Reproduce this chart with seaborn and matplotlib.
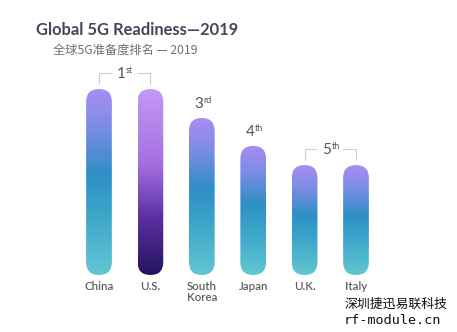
import numpy as np
import matplotlib
matplotlib.use("Agg")
import matplotlib.pyplot as plt
import seaborn as sns
from matplotlib.patches import FancyBboxPatch
from matplotlib.colors import LinearSegmentedColormap

countries = ["China", "U.S.", "South\nKorea", "Japan", "U.K.", "Italy"]
scores = [100, 100, 84.4, 69.4, 59.1, 59.1]
ranks = ["1", "1", "3", "4", "5", "5"]
suffixes = ["st", "st", "rd", "th", "th", "th"]

sns.set_theme(style="white")
plt.rcParams['font.family'] = ['Lato', 'Noto Sans CJK SC', 'DejaVu Sans']

W, H = 457, 332
fig = plt.figure(figsize=(W / 100, H / 100), dpi=100)
fig.patch.set_facecolor("white")
ax = fig.add_axes([73.3 / W, 57 / H, 308.4 / W, 186 / H])

sns.barplot(x=countries, y=scores, ax=ax, width=0.5, color="#999999")
ax.set_xlim(-0.5, 5.5)
ax.set_ylim(0, 100)
ax.axis("off")

cmap_blue = LinearSegmentedColormap.from_list(
    "b", [(0, "#62c7d3"), (0.35, "#3aa3c9"), (0.55, "#2f8fc6"), (0.8, "#7d8ce6"), (1, "#a98df2")])
cmap_us = LinearSegmentedColormap.from_list(
    "u", [(0, "#24145e"), (0.3, "#5a2fa0"), (0.6, "#a56fe2"), (1, "#c499f6")])

fig.canvas.draw()
px_x = (ax.transData.transform((1, 0))[0] - ax.transData.transform((0, 0))[0])
px_y = (ax.transData.transform((0, 1))[1] - ax.transData.transform((0, 0))[1])
aspect = px_x / px_y

patches = list(ax.patches)
for i, p in enumerate(patches):
    x0, w, h = p.get_x(), p.get_width(), p.get_height()
    p.set_visible(False)
    pill = FancyBboxPatch((x0, 0), w, h,
                          boxstyle=f"round,pad=0,rounding_size={w/2}",
                          mutation_aspect=aspect, transform=ax.transData,
                          facecolor="none", edgecolor="none")
    ax.add_patch(pill)
    cm = cmap_us if i == 1 else cmap_blue
    grad = np.linspace(1, 0, 256).reshape(-1, 1)
    im = ax.imshow(grad, cmap=cm, extent=[x0, x0 + w, 0, h], aspect="auto",
                   origin="upper", zorder=2, vmin=0, vmax=1)
    im.set_clip_path(pill)

ax.set_xlim(-0.5, 5.5)
ax.set_ylim(0, 100)

label_color = "#5e5e5e"
for i, c in enumerate(countries):
    ax.text(i, -3.3, c, ha="center", va="top", fontsize=8.3, color=label_color,
            fontweight="semibold", linespacing=1.0, clip_on=False)

rank_color = "#555555"
def rank_label(x, y, r, s):
    ax.text(x, y, r, ha="right", va="baseline", fontsize=11, color=rank_color, clip_on=False)
    ax.annotate(s, xy=(x, y), xytext=(0.3, 3.6), textcoords="offset points",
                ha="left", va="baseline", fontsize=6.5, color=rank_color, annotation_clip=False)

bracket_color = "#cfcfcf"
yb = scores[0] + 8.5
ax.plot([0, 0, 1, 1], [scores[0] + 2.7, yb, yb, scores[0] + 2.7], color=bracket_color, lw=0.8, clip_on=False)
ax.text(0.5, yb, " " * 9, ha="center", va="center", fontsize=8, clip_on=False,
        bbox=dict(facecolor="white", edgecolor="none", pad=0))
rank_label(0.52, yb - 2.7, ranks[0], suffixes[0])
rank_label(2.02, scores[2] + 5.3, ranks[2], suffixes[2])
rank_label(3.02, scores[3] + 5.3, ranks[3], suffixes[3])
yb5 = scores[4] + 8.5
ax.plot([4, 4, 5, 5], [scores[4] + 2.7, yb5, yb5, scores[4] + 2.7], color=bracket_color, lw=0.8, clip_on=False)
ax.text(4.5, yb5, " " * 9, ha="center", va="center", fontsize=8, clip_on=False,
        bbox=dict(facecolor="white", edgecolor="none", pad=0))
rank_label(4.52, yb5 - 2.7, ranks[4], suffixes[4])

fig.text(36 / W, 1 - 30 / H, "Global 5G Readiness—2019", fontsize=11.9, fontweight="bold",
         color="#4b4459", ha="left", va="center")
fig.text(53 / W, 1 - 50 / H, "全球5G准备度排名 — 2019", fontsize=8.8, color="#707070",
         ha="left", va="center", family=['Noto Sans CJK SC', 'DejaVu Sans'])

fig.text(345 / W, 1 - 304 / H, "深圳捷迅易联科技", fontsize=9.3, color="#111111",
         ha="left", va="center", family=['Noto Sans CJK SC', 'DejaVu Sans'])
fig.text(344 / W, 1 - 321 / H, "rf-module.cn", fontsize=9.7, color="#111111",
         ha="left", va="center", family=['DejaVu Sans Mono'])

fig.savefig("out.png", dpi=100, facecolor="white")
